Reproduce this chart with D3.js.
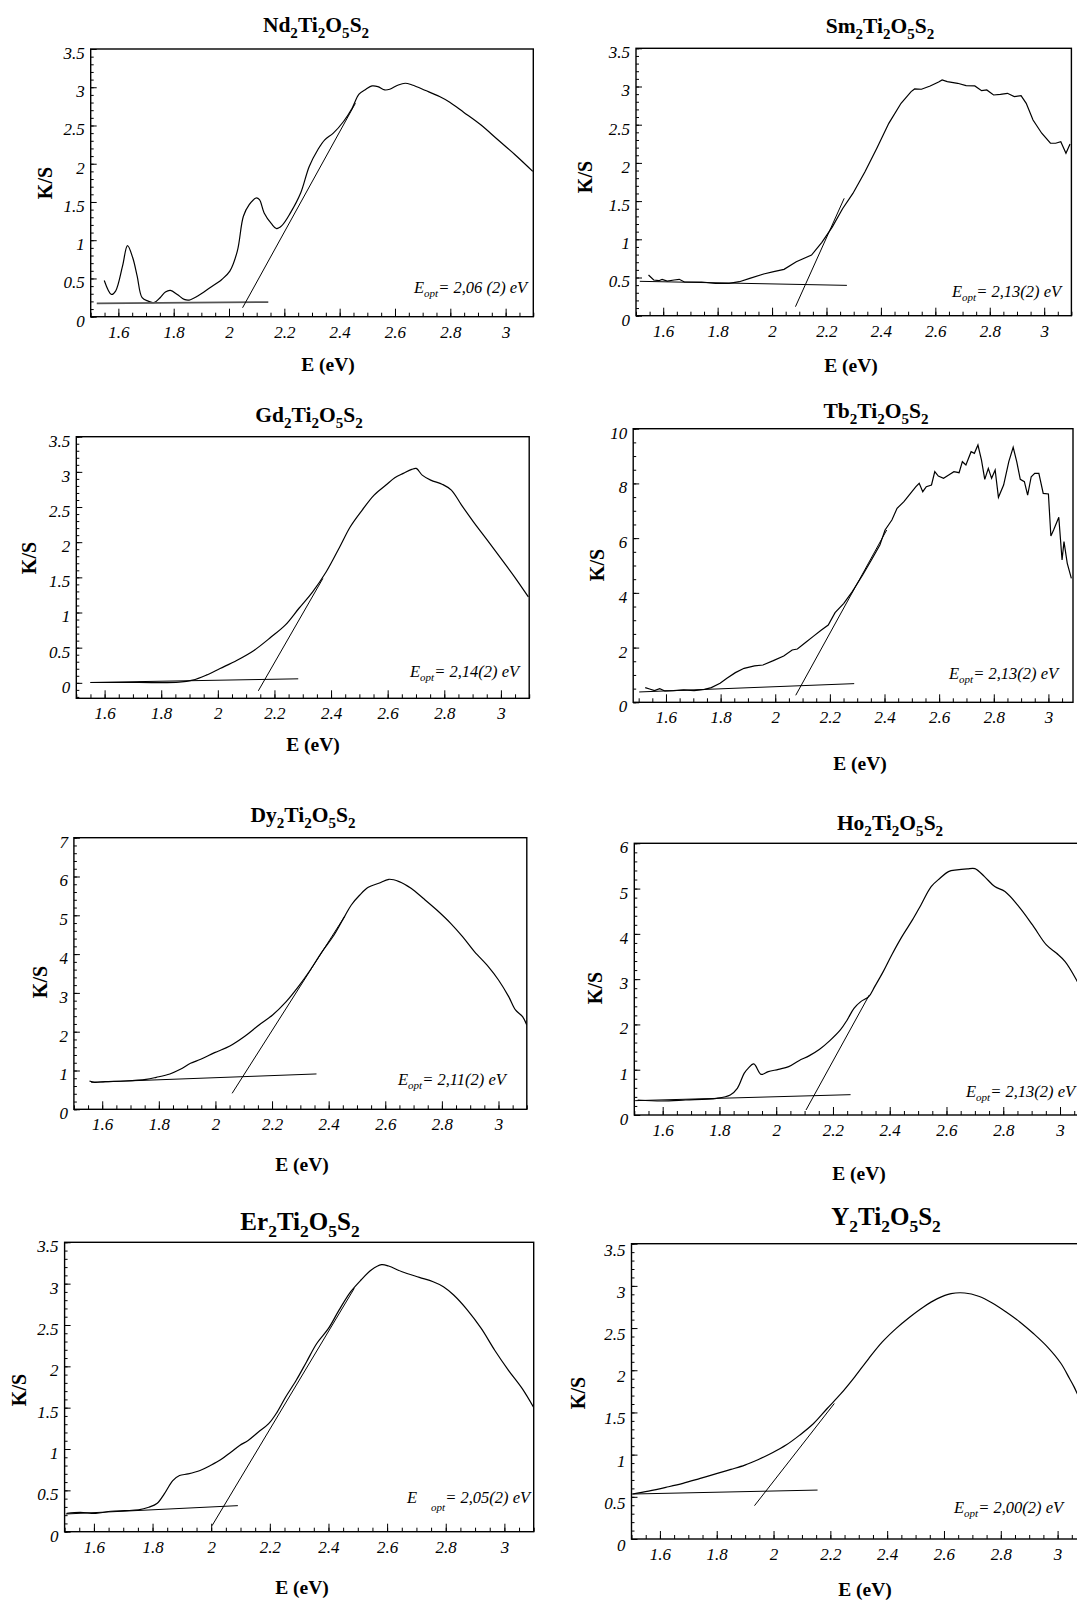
<!DOCTYPE html>
<html>
<head>
<meta charset="utf-8">
<script src="https://cdn.jsdelivr.net/npm/d3@7"></script>
<style>
  body { margin: 0; background: #fff; }
  svg { display: block; }
</style>
</head>
<body>
<svg id="chart" width="1077" height="1600"></svg>
<script>
// ---- data: [E (eV), K/S] ----
const ndCurve = [[1.549,0.474],[1.575,0.291],[1.590,0.335],[1.615,0.661],[1.633,0.930],[1.652,0.770],[1.668,0.530],[1.686,0.248],[1.708,0.204],[1.729,0.183],[1.751,0.248],[1.770,0.322],[1.788,0.343],[1.813,0.291],[1.838,0.226],[1.856,0.217],[1.887,0.270],[1.931,0.378],[1.974,0.487],[2.003,0.596],[2.030,0.857],[2.052,1.313],[2.073,1.465],[2.098,1.552],[2.110,1.530],[2.127,1.357],[2.154,1.213],[2.172,1.152],[2.191,1.191],[2.222,1.357],[2.259,1.617],[2.290,1.965],[2.321,2.183],[2.346,2.313],[2.377,2.400],[2.414,2.552],[2.445,2.726],[2.470,2.909],[2.495,2.974],[2.517,3.017],[2.538,3.009],[2.563,2.965],[2.581,2.974],[2.612,3.030],[2.637,3.052],[2.662,3.030],[2.711,2.957],[2.761,2.878],[2.798,2.804],[2.848,2.674],[2.910,2.509],[2.972,2.313],[3.034,2.117],[3.098,1.900]]
const ndBase = [[1.522,0.174],[2.142,0.191]]
const ndTangent = [[2.049,0.117],[2.457,2.791]]

const smCurve = [[1.546,0.533],[1.565,0.467],[1.584,0.458],[1.596,0.476],[1.615,0.454],[1.640,0.467],[1.659,0.476],[1.678,0.441],[1.741,0.441],[1.792,0.423],[1.842,0.423],[1.880,0.445],[1.918,0.489],[1.969,0.546],[2.006,0.576],[2.044,0.607],[2.089,0.707],[2.145,0.794],[2.183,0.960],[2.221,1.160],[2.259,1.400],[2.297,1.600],[2.341,1.880],[2.385,2.191],[2.429,2.518],[2.474,2.780],[2.511,2.933],[2.524,2.968],[2.549,2.964],[2.581,3.007],[2.612,3.060],[2.625,3.086],[2.644,3.064],[2.682,3.042],[2.713,3.012],[2.745,3.007],[2.770,2.946],[2.789,2.955],[2.814,2.889],[2.839,2.898],[2.865,2.911],[2.890,2.868],[2.915,2.881],[2.934,2.780],[2.959,2.562],[2.991,2.388],[3.023,2.257],[3.042,2.257],[3.061,2.278],[3.080,2.126],[3.095,2.248]]
const smBase = [[1.514,0.450],[2.275,0.397]]
const smTangent = [[2.086,0.118],[2.265,1.536]]

const gdCurve = [[1.550,0.005],[1.717,0.005],[1.863,0.009],[1.911,0.038],[1.959,0.109],[2.008,0.204],[2.068,0.322],[2.129,0.465],[2.189,0.654],[2.238,0.820],[2.286,1.057],[2.335,1.294],[2.383,1.579],[2.431,1.935],[2.468,2.219],[2.510,2.456],[2.552,2.669],[2.594,2.812],[2.625,2.916],[2.655,2.978],[2.685,3.035],[2.701,3.049],[2.722,2.954],[2.752,2.883],[2.794,2.821],[2.825,2.741],[2.861,2.527],[2.903,2.290],[2.952,2.029],[3.000,1.769],[3.048,1.508],[3.097,1.223]]
const gdBase = [[1.550,0.005],[2.284,0.057]]
const gdTangent = [[2.143,-0.114],[2.371,1.484]]

const tbCurve = [[1.524,0.536],[1.540,0.487],[1.558,0.426],[1.577,0.499],[1.596,0.414],[1.628,0.426],[1.665,0.451],[1.703,0.426],[1.741,0.475],[1.766,0.536],[1.798,0.694],[1.823,0.877],[1.854,1.084],[1.886,1.242],[1.924,1.328],[1.955,1.364],[1.993,1.523],[2.031,1.693],[2.062,1.912],[2.081,1.949],[2.112,2.192],[2.138,2.400],[2.169,2.643],[2.194,2.826],[2.219,3.277],[2.251,3.618],[2.282,4.044],[2.320,4.653],[2.352,5.201],[2.383,5.749],[2.402,6.297],[2.427,6.663],[2.446,7.089],[2.471,7.333],[2.490,7.576],[2.515,7.881],[2.527,8.002],[2.540,7.698],[2.553,7.881],[2.572,7.942],[2.584,8.429],[2.597,8.270],[2.616,8.185],[2.635,8.307],[2.654,8.429],[2.673,8.392],[2.685,8.794],[2.698,8.672],[2.717,9.160],[2.729,9.099],[2.742,9.403],[2.755,8.855],[2.767,8.149],[2.780,8.551],[2.792,8.185],[2.805,8.490],[2.817,7.491],[2.836,7.942],[2.855,8.794],[2.871,9.318],[2.884,8.794],[2.897,8.149],[2.912,8.063],[2.924,7.576],[2.937,8.246],[2.950,8.368],[2.965,8.368],[2.981,7.637],[3.000,7.613],[3.009,6.078],[3.019,6.297],[3.038,6.760],[3.050,5.201],[3.057,5.871],[3.069,5.080],[3.084,4.531]]
const tbBase = [[1.502,0.378],[2.289,0.682]]
const tbTangent = [[2.075,0.256],[2.408,6.297]]

const dyCurve = [[1.555,0.730],[1.573,0.696],[1.610,0.713],[1.682,0.730],[1.755,0.773],[1.791,0.825],[1.839,0.911],[1.876,1.031],[1.912,1.186],[1.948,1.289],[1.997,1.460],[2.051,1.632],[2.105,1.890],[2.154,2.174],[2.202,2.431],[2.250,2.775],[2.293,3.162],[2.335,3.591],[2.377,4.064],[2.419,4.493],[2.456,4.966],[2.480,5.266],[2.510,5.524],[2.540,5.722],[2.577,5.825],[2.613,5.928],[2.649,5.868],[2.691,5.696],[2.734,5.438],[2.782,5.137],[2.831,4.794],[2.873,4.450],[2.915,4.064],[2.964,3.677],[3.000,3.333],[3.036,2.904],[3.060,2.560],[3.085,2.388],[3.100,2.174]]
const dyBase = [[1.561,0.696],[2.357,0.911]]
const dyTangent = [[2.059,0.412],[2.456,4.966]]

const hoCurve = [[1.512,0.331],[1.596,0.309],[1.681,0.331],[1.790,0.368],[1.838,0.442],[1.863,0.589],[1.887,0.920],[1.901,1.031],[1.921,1.127],[1.947,0.898],[1.972,0.957],[2.008,1.009],[2.044,1.068],[2.080,1.200],[2.117,1.311],[2.153,1.451],[2.189,1.642],[2.226,1.878],[2.250,2.099],[2.274,2.356],[2.298,2.504],[2.326,2.614],[2.347,2.835],[2.377,3.166],[2.407,3.535],[2.443,3.940],[2.480,4.308],[2.510,4.639],[2.546,5.044],[2.577,5.228],[2.607,5.375],[2.637,5.412],[2.673,5.434],[2.700,5.442],[2.734,5.265],[2.770,5.044],[2.806,4.934],[2.855,4.602],[2.903,4.197],[2.952,3.756],[2.988,3.571],[3.018,3.387],[3.058,2.982],[3.080,2.700]]
const hoBase = [[1.503,0.317],[2.262,0.449]]
const hoTangent = [[2.105,0.110],[2.328,2.651]]

const erCurve = [[1.507,0.222],[1.553,0.234],[1.606,0.222],[1.658,0.247],[1.705,0.255],[1.752,0.263],[1.787,0.295],[1.816,0.344],[1.840,0.457],[1.869,0.618],[1.892,0.679],[1.921,0.699],[1.962,0.740],[1.997,0.800],[2.032,0.869],[2.067,0.962],[2.097,1.043],[2.126,1.103],[2.161,1.205],[2.196,1.306],[2.225,1.447],[2.254,1.629],[2.290,1.831],[2.325,2.053],[2.360,2.276],[2.400,2.458],[2.436,2.680],[2.476,2.903],[2.511,3.044],[2.546,3.165],[2.581,3.229],[2.605,3.213],[2.651,3.144],[2.710,3.076],[2.757,3.023],[2.792,2.963],[2.827,2.862],[2.874,2.680],[2.921,2.458],[2.967,2.195],[3.014,1.952],[3.061,1.730],[3.099,1.508]]
const erBase = [[1.504,0.214],[2.091,0.315]]
const erTangent = [[2.003,0.073],[2.488,2.943]]

const yCurve = [[1.503,0.533],[1.560,0.568],[1.621,0.612],[1.681,0.659],[1.742,0.718],[1.802,0.777],[1.850,0.825],[1.899,0.876],[1.947,0.943],[1.996,1.022],[2.044,1.113],[2.092,1.231],[2.141,1.369],[2.189,1.547],[2.238,1.725],[2.286,1.922],[2.335,2.139],[2.383,2.336],[2.431,2.494],[2.480,2.632],[2.528,2.751],[2.577,2.849],[2.625,2.908],[2.673,2.916],[2.722,2.877],[2.770,2.798],[2.819,2.691],[2.867,2.573],[2.915,2.435],[2.964,2.277],[3.012,2.080],[3.042,1.902],[3.058,1.803],[3.080,1.640]]
const yBase = [[1.503,0.533],[2.155,0.580]]
const yTangent = [[1.933,0.395],[2.214,1.606]]

// tick labels
const eTicks = [1.6, 1.8, 2, 2.2, 2.4, 2.6, 2.8, 3]
const ks35Ticks = [0, 0.5, 1, 1.5, 2, 2.5, 3, 3.5]
const ks10Ticks = [0, 2, 4, 6, 8, 10]
const ks7Ticks = [0, 1, 2, 3, 4, 5, 6, 7]
const ks6Ticks = [0, 1, 2, 3, 4, 5, 6]

const compounds = ["Nd2Ti2O5S2", "Sm2Ti2O5S2", "Gd2Ti2O5S2", "Tb2Ti2O5S2", "Dy2Ti2O5S2", "Ho2Ti2O5S2", "Er2Ti2O5S2", "Y2Ti2O5S2"]
const eoptLabels = ["= 2,06 (2) eV", "= 2,13(2) eV", "= 2,14(2) eV", "= 2,13(2) eV", "= 2,11(2) eV", "= 2,13(2) eV", "= 2,05(2) eV", "= 2,00(2) eV"]

const FONT = '"Liberation Serif", "Times New Roman", serif'

// layout of each panel (frame l,t,r,b in px)
const panels = [
  {curve: ndCurve, base: ndBase, tan: ndTangent, frame: [90.7, 49, 533.3, 316.7], xdom: [1.5, 3.1], ydom: [0, 3.5], yt: ks35Ticks, ym: 0.1,
   title: [316, 32, 21.5], ylab: [45, 183], xlab: [328, 371], eopt: [414, 293], smooth: true, baseStyle: ["#555", 1.8]},
  {curve: smCurve, base: smBase, tan: smTangent, frame: [636, 48.3, 1071.4, 315.7], xdom: [1.5, 3.1], ydom: [0, 3.5], yt: ks35Ticks, ym: 0.1,
   title: [880, 33, 21.5], ylab: [585, 177], xlab: [851, 372], eopt: [952, 297], smooth: false},
  {curve: gdCurve, base: gdBase, tan: gdTangent, frame: [76.3, 436.7, 529.2, 698.3], xdom: [1.5, 3.1], ydom: [-0.22, 3.5], yt: ks35Ticks, ym: 0.1,
   title: [309, 421.7, 21.5], ylab: [29, 558], xlab: [313, 751], eopt: [410, 677], smooth: true},
  {curve: tbCurve, base: tbBase, tan: tbTangent, frame: [633.2, 428.7, 1073, 702.3], xdom: [1.48, 3.09], ydom: [0, 10], yt: ks10Ticks, ym: 0.5,
   title: [876, 418, 21.5], ylab: [597, 565], xlab: [860, 770], eopt: [949, 679], smooth: false},
  {curve: dyCurve, base: dyBase, tan: dyTangent, frame: [73.9, 837.7, 526.8, 1109.3], xdom: [1.5, 3.1], ydom: [0, 7], yt: ks7Ticks, ym: 0.2,
   title: [303, 821.7, 21.5], ylab: [39.5, 982], xlab: [302, 1171], eopt: [398, 1085], smooth: true},
  {curve: hoCurve, base: hoBase, tan: hoTangent, frame: [634.3, 843.3, 1088.4, 1115], xdom: [1.5, 3.1], ydom: [0, 6], yt: ks6Ticks, ym: 0.2,
   title: [890, 830, 21.5], ylab: [595, 988], xlab: [859, 1180], eopt: [966, 1097], smooth: true},
  {curve: erCurve, base: erBase, tan: erTangent, frame: [64.6, 1242.3, 533.7, 1531.7], xdom: [1.5, 3.1], ydom: [0, 3.5], yt: ks35Ticks, ym: 0.1,
   title: [300, 1230, 25], ylab: [19, 1390], xlab: [302, 1594], eopt: [407, 1503], smooth: true, optGap: 14},
  {curve: yCurve, base: yBase, tan: yTangent, frame: [631.5, 1243.7, 1086, 1539], xdom: [1.5, 3.1], ydom: [0, 3.5], yt: ks35Ticks, ym: 0.1,
   title: [886, 1225, 25], ylab: [578, 1393], xlab: [865, 1596], eopt: [954, 1513], smooth: true, labShift: 6}
]

const svg = d3.select("#chart")

function steps(dom, step) {
  const a = Math.ceil(dom[0] / step - 1e-6), b = Math.floor(dom[1] / step + 1e-6)
  return d3.range(a, b + 1).map(k => +(k * step).toFixed(4))
}

// chemical formula: digits go to subscript
function formula(text, str, size) {
  const parts = str.match(/[A-Za-z]+|\d+/g)
  let sub = false
  parts.forEach(s => {
    const isNum = /\d/.test(s)
    const t = text.append("tspan").text(s)
    if (isNum && !sub) { t.attr("dy", size * 0.28).attr("font-size", size * 0.7); sub = true }
    else if (isNum) { t.attr("font-size", size * 0.7) }
    else if (sub) { t.attr("dy", -size * 0.28); sub = false }
  })
}

panels.forEach((p, i) => {
  const [l, t, r, b] = p.frame
  const x = d3.scaleLinear().domain(p.xdom).range([l, r])
  const y = d3.scaleLinear().domain(p.ydom).range([b, t])
  const g = svg.append("g").attr("class", "panel")

  const clipId = "clip" + i
  svg.append("clipPath").attr("id", clipId)
    .append("rect").attr("x", l).attr("y", t).attr("width", r - l).attr("height", b - t)

  // axes, ticks pointing inward
  g.append("g").attr("transform", `translate(0,${b})`)
    .call(d3.axisBottom(x).tickValues(steps(p.xdom, 0.05)).tickSize(-4).tickFormat(""))
  g.append("g").attr("transform", `translate(0,${b})`)
    .call(d3.axisBottom(x).tickValues(eTicks).tickSize(-8).tickPadding(9).tickFormat(d3.format("~g")))
  g.append("g").attr("transform", `translate(${l},0)`)
    .call(d3.axisLeft(y).tickValues(steps(p.ydom, p.ym)).tickSize(-3).tickFormat(""))
  const yMajor = g.append("g").attr("transform", `translate(${l},0)`)
    .call(d3.axisLeft(y).tickValues(p.yt).tickSize(-6).tickPadding(6).tickFormat(d3.format("~g")))

  g.selectAll(".domain").remove()
  g.selectAll(".tick line").attr("stroke", "#000").attr("stroke-width", 1)
  g.selectAll(".tick text")
    .attr("font-family", FONT).attr("font-style", "italic").attr("font-size", 17).attr("fill", "#000")
  yMajor.selectAll(".tick text").attr("dy", `${0.32 + (p.labShift || 4) / 17}em`)

  // frame
  g.append("rect").attr("x", l).attr("y", t).attr("width", r - l).attr("height", b - t)
    .attr("fill", "none").attr("stroke", "#000").attr("stroke-width", 1.4)

  const line = d3.line().x(d => x(d[0])).y(d => y(d[1]))
    .curve(p.smooth ? d3.curveCatmullRom.alpha(0.5) : d3.curveLinear)
  const plot = g.append("g").attr("clip-path", `url(#${clipId})`)
  plot.append("path").datum(p.curve).attr("d", line)
    .attr("fill", "none").attr("stroke", "#000").attr("stroke-width", 1.2)
  const straight = d3.line().x(d => x(d[0])).y(d => y(d[1]))
  const bs = p.baseStyle || ["#000", 1]
  plot.append("path").datum(p.base).attr("d", straight)
    .attr("fill", "none").attr("stroke", bs[0]).attr("stroke-width", bs[1])
  plot.append("path").datum(p.tan).attr("d", straight)
    .attr("fill", "none").attr("stroke", "#000").attr("stroke-width", 1)

  // title
  const tt = g.append("text").attr("x", p.title[0]).attr("y", p.title[1])
    .attr("text-anchor", "middle").attr("font-family", FONT).attr("font-weight", "bold")
    .attr("font-size", p.title[2])
  formula(tt, compounds[i], p.title[2])

  // axis labels
  g.append("text").attr("transform", `translate(${p.ylab[0]},${p.ylab[1]}) rotate(-90)`)
    .attr("text-anchor", "middle").attr("dominant-baseline", "central")
    .attr("font-family", FONT).attr("font-weight", "bold").attr("font-size", 20).text("K/S")
  g.append("text").attr("x", p.xlab[0]).attr("y", p.xlab[1])
    .attr("text-anchor", "middle").attr("font-family", FONT).attr("font-weight", "bold")
    .attr("font-size", 19.5).text("E (eV)")

  // E_opt annotation
  const et = g.append("text").attr("x", p.eopt[0]).attr("y", p.eopt[1])
    .attr("font-family", FONT).attr("font-style", "italic").attr("font-size", 16.5)
  et.append("tspan").text("E")
  et.append("tspan").attr("font-size", 11).attr("dy", p.optGap ? 8 : 4).attr("dx", p.optGap || 0).text("opt")
  et.append("tspan").attr("dy", p.optGap ? -8 : -4).text(eoptLabels[i])
})
</script>
</body>
</html>
